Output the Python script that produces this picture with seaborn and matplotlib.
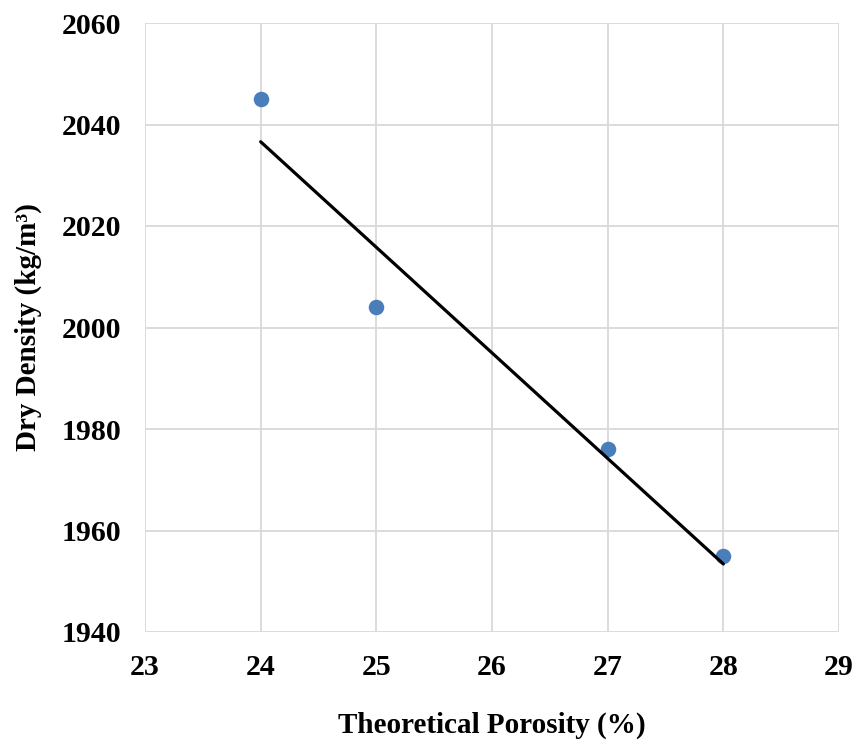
import numpy as np
import pandas as pd
import matplotlib
matplotlib.use("Agg")
import matplotlib.pyplot as plt
import seaborn as sns

porosity = [24, 25, 27, 28]
dry_density = [2045, 2004, 1976, 1955]
x_ticks = [23, 24, 25, 26, 27, 28, 29]
y_ticks = [1940, 1960, 1980, 2000, 2020, 2040, 2060]
x_label = "Theoretical Porosity (%)"
y_label = "Dry Density (kg/m³)"

df = pd.DataFrame({"porosity": porosity, "density": dry_density})

sns.set_theme(style="whitegrid")
plt.rcParams["font.family"] = ["Liberation Serif", "DejaVu Serif"]
plt.rcParams["font.weight"] = "bold"
plt.rcParams["text.color"] = "black"
plt.rcParams["xtick.color"] = "black"
plt.rcParams["ytick.color"] = "black"
plt.rcParams["axes.labelcolor"] = "black"

fig = plt.figure(figsize=(8.56, 7.43), dpi=100)
ax = fig.add_axes([145/856, 1 - 632/743, (839-145)/856, (632-23)/743])

sns.regplot(data=df, x="porosity", y="density", ci=None, ax=ax,
            scatter_kws=dict(s=125, color="#4a7ebb", alpha=1, zorder=3, linewidths=0),
            line_kws=dict(color="black", lw=2.3, zorder=4), truncate=True)

ax.set_xlim(23, 29)
ax.set_ylim(1940, 2060)
ax.set_xticks(x_ticks)
ax.set_yticks(y_ticks)
ax.set_xticklabels([str(t) for t in x_ticks], fontsize=21.5, fontweight="bold")
ax.set_yticklabels([str(t) for t in y_ticks], fontsize=21.5, fontweight="bold")
ax.tick_params(axis="x", pad=16, length=0, colors="black")
ax.tick_params(axis="y", pad=17, length=0, colors="black")
ax.grid(True, color="#d9d9d9", lw=1.3)
for s in ax.spines.values():
    s.set_visible(False)
ax.set_xlabel(x_label, fontsize=21, fontweight="bold", labelpad=22, color="black")
ax.set_ylabel(y_label, fontsize=21, fontweight="bold", labelpad=14, color="black")

fig.savefig("out.png", dpi=100)
